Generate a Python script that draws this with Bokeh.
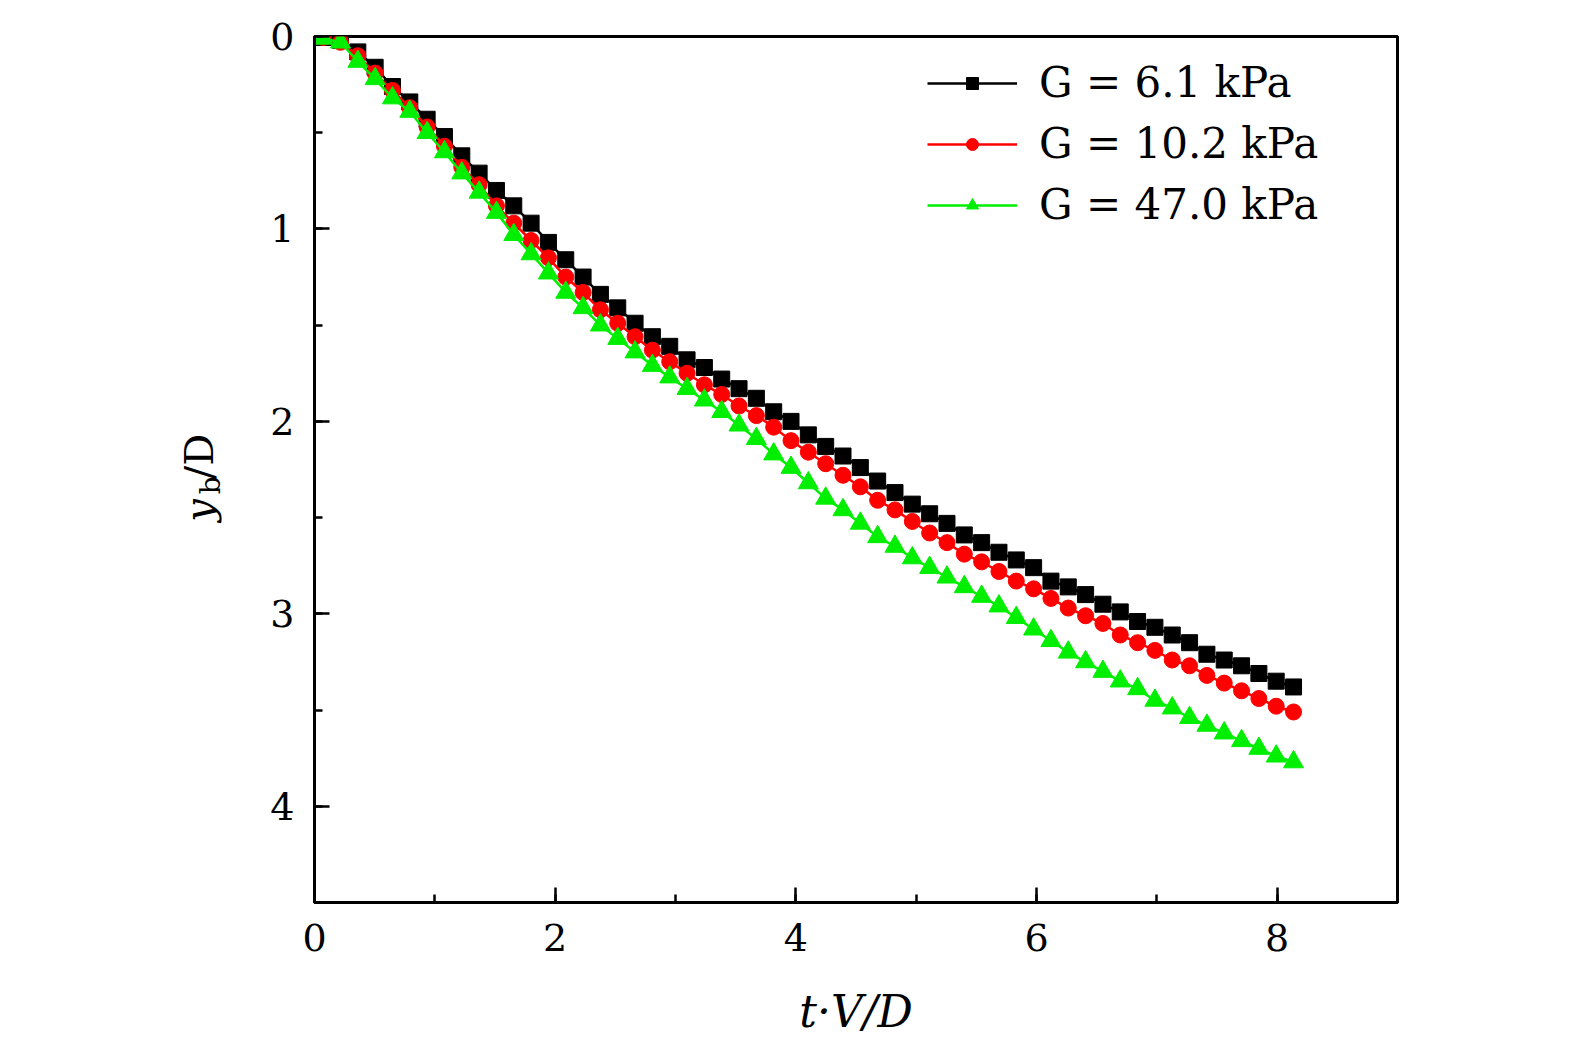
import math
from bokeh.plotting import figure
from bokeh.layouts import row
from bokeh.models import Range1d, Legend, LegendItem, Label, SingleIntervalTicker
from bokeh.embed import file_html
from bokeh.resources import INLINE

# dimensionless time t*V/D
t = [0.0, 0.072, 0.216, 0.36, 0.504, 0.648, 0.792, 0.936,
     1.08, 1.224, 1.368, 1.512, 1.656, 1.8, 1.944, 2.088, 2.232, 2.376, 2.52, 2.664, 2.808, 2.952, 3.096,
     3.24, 3.384, 3.528, 3.672, 3.816, 3.96, 4.104, 4.248, 4.392, 4.536, 4.68, 4.824, 4.968, 5.112, 5.256, 5.4, 5.544, 5.688,
     5.832, 5.976, 6.12, 6.264, 6.408, 6.552, 6.696, 6.84, 6.984, 7.128, 7.272, 7.416, 7.56, 7.704, 7.848, 7.992, 8.136]

# y_b/D for G = 6.1 kPa
yb_g61 = [0.0, 0.005, 0.02, 0.08, 0.16, 0.26, 0.34, 0.43,
          0.52, 0.62, 0.71, 0.80, 0.88, 0.97, 1.07, 1.16, 1.25, 1.34, 1.41, 1.49, 1.56, 1.61, 1.68,
          1.72, 1.78, 1.83, 1.88, 1.95, 2.00, 2.07, 2.13, 2.18, 2.24, 2.31, 2.37, 2.43, 2.48, 2.53, 2.59, 2.63, 2.68,
          2.72, 2.76, 2.83, 2.86, 2.90, 2.95, 2.99, 3.04, 3.07, 3.11, 3.15, 3.21, 3.24, 3.27, 3.31, 3.35, 3.38]

# y_b/D for G = 10.2 kPa
yb_g102 = [0.0, 0.005, 0.03, 0.10, 0.19, 0.28, 0.37, 0.47,
           0.57, 0.68, 0.77, 0.88, 0.97, 1.06, 1.15, 1.25, 1.33, 1.42, 1.49, 1.56, 1.63, 1.69, 1.75,
           1.81, 1.86, 1.92, 1.97, 2.03, 2.10, 2.16, 2.22, 2.28, 2.34, 2.41, 2.46, 2.52, 2.58, 2.63, 2.69, 2.73, 2.78,
           2.83, 2.87, 2.92, 2.97, 3.01, 3.05, 3.11, 3.15, 3.19, 3.24, 3.27, 3.32, 3.36, 3.40, 3.44, 3.48, 3.51]

# y_b/D for G = 47.0 kPa
yb_g470 = [0.0, 0.01, 0.03, 0.13, 0.22, 0.32, 0.39, 0.50,
           0.60, 0.71, 0.81, 0.915, 1.03, 1.13, 1.23, 1.33, 1.41, 1.50, 1.57, 1.64, 1.71, 1.77, 1.83,
           1.89, 1.95, 2.02, 2.09, 2.17, 2.24, 2.32, 2.40, 2.46, 2.53, 2.60, 2.65, 2.71, 2.76, 2.81, 2.86, 2.91,
           2.96, 3.02, 3.08, 3.14, 3.20, 3.25, 3.30, 3.35, 3.39, 3.45, 3.49, 3.54, 3.58, 3.62, 3.66, 3.70, 3.74, 3.77]

series_labels = ["G = 6.1 kPa", "G = 10.2 kPa", "G = 47.0 kPa"]
x_ticks_interval = 2
y_ticks_interval = 1

FONT = "DejaVu Serif"
H = 1032
LW = 250  # width of the side strip holding the y-axis title

p = figure(frame_width=1083, frame_height=866,
           min_border_left=314 - LW, min_border_top=36, min_border_right=150, min_border_bottom=H - 36 - 866,
           x_range=Range1d(0, 9), y_range=Range1d(4.5, 0),
           output_backend="svg", toolbar_location=None)
p.background_fill_color = "white"
p.border_fill_color = "white"
p.grid.visible = False
p.outline_line_color = "black"
p.outline_line_width = 3

p.xaxis.ticker = SingleIntervalTicker(interval=x_ticks_interval, num_minor_ticks=2)
p.yaxis.ticker = SingleIntervalTicker(interval=y_ticks_interval, num_minor_ticks=2)
for ax in (p.xaxis, p.yaxis):
    ax.axis_line_width = 3
    ax.axis_line_color = "black"
    ax.major_tick_in = 15
    ax.major_tick_out = 0
    ax.minor_tick_in = 8
    ax.minor_tick_out = 0
    ax.major_tick_line_width = 2.5
    ax.minor_tick_line_width = 2.5
    ax.major_tick_line_color = "black"
    ax.minor_tick_line_color = "black"
    ax.major_label_text_font = FONT
    ax.major_label_text_font_size = "38px"
    ax.major_label_text_color = "black"
p.xaxis.major_label_standoff = 21
p.yaxis.major_label_standoff = 20

p.xaxis.axis_label = "t·V/D"
p.xaxis.axis_label_text_font = FONT
p.xaxis.axis_label_text_font_style = "italic"
p.xaxis.axis_label_text_font_size = "44px"
p.xaxis.axis_label_text_color = "black"
p.xaxis.axis_label_standoff = 32

colors = ["black", "#ff0000", "#00ee00"]
markers = ["square", "circle", "triangle"]
sizes = [16, 16, 20]
ys = [yb_g61, yb_g102, yb_g470]

items = []
for lab, c, m, s_, yv in zip(series_labels, colors, markers, sizes, ys):
    lr = p.line(t, yv, line_color=c, line_width=2.5)
    sr = p.scatter(t, yv, marker=m, size=s_, fill_color=c, line_color=c)
    items.append(LegendItem(label=lab, renderers=[lr, sr]))

legend = Legend(items=items, location="top_right",
                label_text_font=FONT, label_text_font_size="42px", label_text_color="black",
                glyph_width=90, glyph_height=30, label_height=48, label_width=336,
                label_standoff=22, spacing=12, padding=0, margin=22,
                border_line_alpha=0, background_fill_alpha=0)
p.add_layout(legend)

# side strip carrying the y-axis title  y_b/D
s = figure(width=LW, height=H, min_border=0, x_range=Range1d(0, LW), y_range=Range1d(0, H),
           x_axis_type=None, y_axis_type=None,
           output_backend="svg", toolbar_location=None)
s.grid.visible = False
s.outline_line_color = None
s.background_fill_color = "white"
s.border_fill_color = "white"
lab_kw = dict(angle=math.pi / 2, text_font=FONT, text_align="left",
              text_baseline="alphabetic", text_color="black")
s.add_layout(Label(x=198, y=H - 583, text="y", text_font_style="italic", text_font_size="40px", **lab_kw))
s.add_layout(Label(x=210, y=H - 550, text="b", text_font_size="28px", **lab_kw))
s.add_layout(Label(x=198, y=H - 532, text="/D", text_font_size="40px", **lab_kw))

layout = row(s, p, spacing=0)
open("out.html", "w").write(file_html(layout, INLINE))
